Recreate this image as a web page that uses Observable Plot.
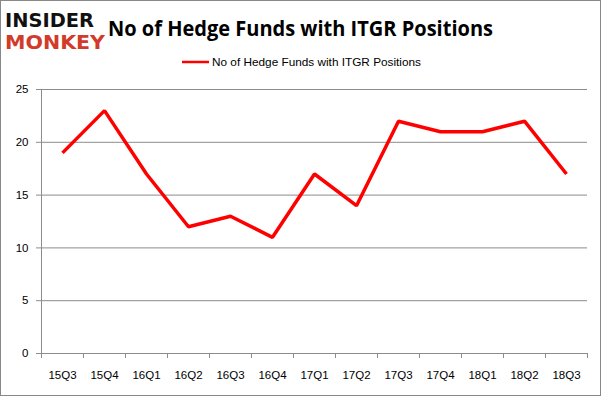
<!DOCTYPE html>
<html>
<head>
<meta charset="utf-8">
<script src="https://cdn.jsdelivr.net/npm/d3@7"></script>
<script src="https://cdn.jsdelivr.net/npm/@observablehq/plot@0.6"></script>
<style>
  html, body { margin: 0; padding: 0; background: #fff; }
  #chart { position: relative; width: 602px; height: 398px; }
  svg { display: block; }
</style>
</head>
<body>
<div id="chart"></div>
<script>
const quarters = ["15Q3","15Q4","16Q1","16Q2","16Q3","16Q4","17Q1","17Q2","17Q3","17Q4","18Q1","18Q2","18Q3"];
const funds = [19, 23, 17, 12, 13, 11, 17, 14, 22, 21, 21, 22, 17];
const yTicks = [0, 5, 10, 15, 20, 25];
const titleText = "No of Hedge Funds with ITGR Positions";
const seriesName = "No of Hedge Funds with ITGR Positions";

const data = quarters.map((q, i) => ({quarter: q, value: funds[i]}));

const W = 602, H = 398;
const plotLeft = 41, plotRight = 587, plotTop = 89, plotBottom = 353;
const step = (plotRight - plotLeft) / quarters.length;
const grid = "#8c8c8c";

const plot = Plot.plot({
  width: W,
  height: H,
  marginLeft: plotLeft,
  marginRight: W - plotRight,
  marginTop: plotTop,
  marginBottom: H - plotBottom,
  style: {fontFamily: "'Liberation Sans', Arial, sans-serif", fontSize: "11.5px", color: "#000", background: "#fff"},
  x: {type: "point", domain: quarters, padding: 0.5, label: null},
  y: {domain: [0, 25], label: null},
  marks: [
    Plot.gridY(yTicks, {stroke: grid, strokeOpacity: 1, strokeWidth: 1}),
    Plot.ruleX([quarters[0]], {x: d => d, dx: -step / 2, y1: 0, y2: 25, stroke: grid}),
    Plot.ruleX(quarters, {x: d => d, dx: -step / 2, y1: 0, y2: 0, insetBottom: -5, stroke: grid}),
    Plot.ruleX([quarters[quarters.length - 1]], {x: d => d, dx: step / 2, y1: 0, y2: 0, insetBottom: -5, stroke: grid}),
    Plot.axisY({ticks: yTicks, tickSize: 5, tickPadding: 8, stroke: grid, fill: "#000", label: null}),
    Plot.axisX({tickSize: 0, tickPadding: 17, fill: "#000", label: null}),
    Plot.line(data, {x: "quarter", y: "value", stroke: "#ff0000", strokeWidth: 3.5, strokeLinejoin: "miter", strokeLinecap: "butt"})
  ]
});

document.getElementById("chart").appendChild(plot);

const svg = d3.select(plot);
// outer border
svg.append("rect").attr("x", 0.5).attr("y", 0.5).attr("width", W - 2).attr("height", H - 3)
  .attr("fill", "none").attr("stroke", "#888");

const g = svg.append("g").attr("text-anchor", "start");

// logo
g.append("text").attr("x", 5).attr("y", 27).text("INSIDER")
  .attr("font-family", "'DejaVu Sans', sans-serif").attr("font-weight", "bold").attr("font-size", 19)
  .attr("fill", "#111").attr("textLength", 89).attr("lengthAdjust", "spacingAndGlyphs");
g.append("text").attr("x", 5).attr("y", 49).text("MONKEY")
  .attr("font-family", "'DejaVu Sans', sans-serif").attr("font-weight", "bold").attr("font-size", 19)
  .attr("fill", "#d23a2a").attr("textLength", 100).attr("lengthAdjust", "spacingAndGlyphs");

// title
g.append("text").attr("x", 108).attr("y", 36).text(titleText)
  .attr("font-family", "'Open Sans', 'Liberation Sans', sans-serif").attr("font-weight", "bold").attr("font-size", 22)
  .attr("fill", "#000").attr("textLength", 385).attr("lengthAdjust", "spacingAndGlyphs");

// legend
g.append("line").attr("x1", 182).attr("x2", 209).attr("y1", 62).attr("y2", 62)
  .attr("stroke", "#ff0000").attr("stroke-width", 2.5);
g.append("text").attr("x", 212).attr("y", 66).text(seriesName)
  .attr("font-family", "'Liberation Sans', Arial, sans-serif").attr("font-size", 11.5)
  .attr("fill", "#000").attr("textLength", 209).attr("lengthAdjust", "spacingAndGlyphs");
</script>
</body>
</html>
